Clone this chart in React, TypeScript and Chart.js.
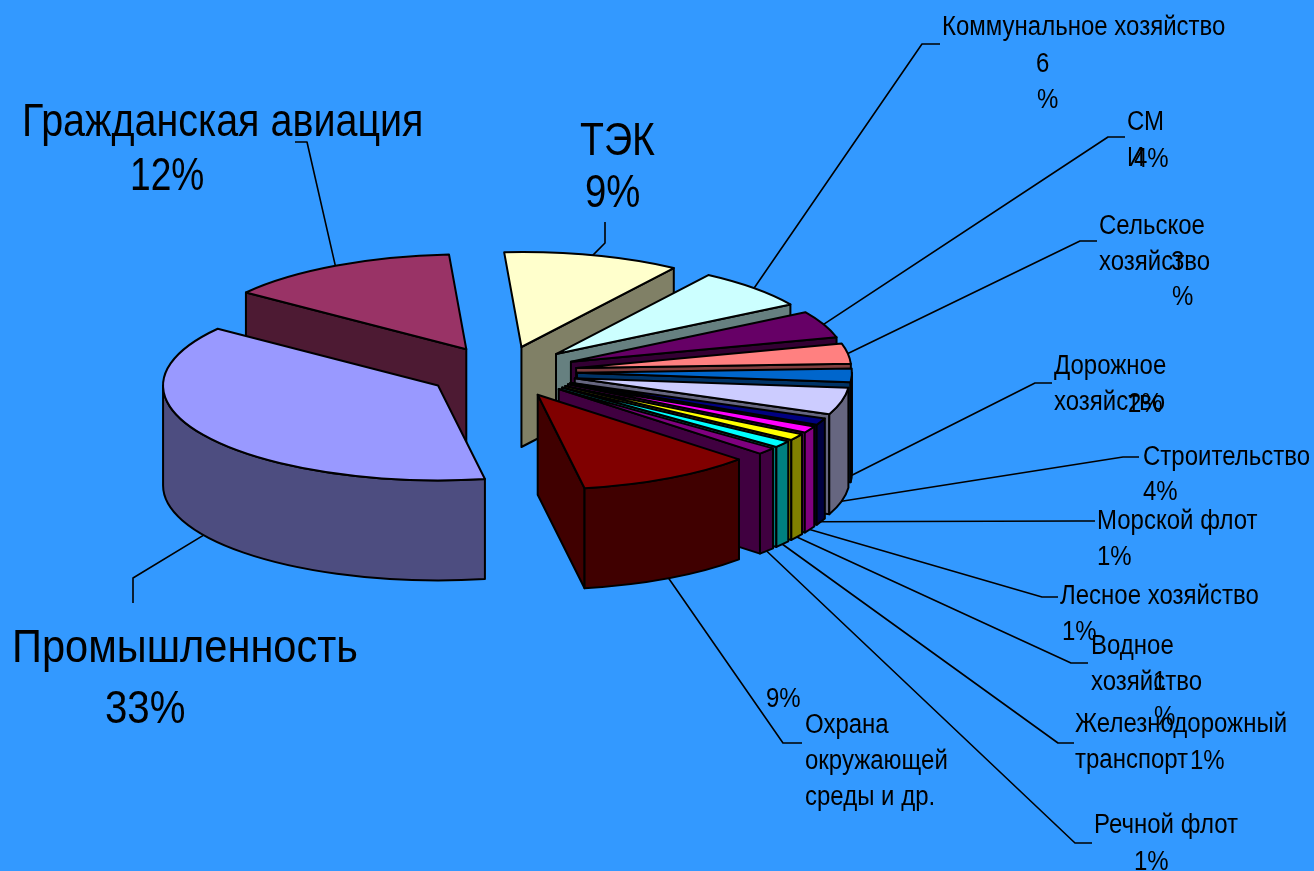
import React, { useEffect, useRef } from "react";
import { Chart, registerables } from "chart.js";

Chart.register(...registerables);

// Budget shares, clockwise from the top of the pie.
const categories = [
  "ТЭК", "Коммунальное хозяйство", "СМИ", "Сельское хозяйство", "Дорожное хозяйство",
  "Строительство", "Морской флот", "Лесное хозяйство", "Водное хозяйство",
  "Железнодорожный транспорт", "Речной флот", "Охрана окружающей среды и др.",
  "Промышленность", "Гражданская авиация",
];
const shares = [9, 6, 4, 3, 2, 4, 1, 1, 1, 1, 1, 9, 33, 12];
const sliceColors = [
  "#FFFFCC", "#CCFFFF", "#660066", "#FF8080", "#0066CC", "#CCCCFF", "#000080",
  "#FF00FF", "#FFFF00", "#00FFFF", "#800080", "#800000", "#9999FF", "#993366",
];

// Pie projection.
const TILT = 0.345;
const DEPTH = 100;
const EXPLODE = 75;
const RADIUS = 275;
const FIRST_SLICE_ANGLE = -3.6;
// Radial walls this close to edge-on are left out.
const EDGE_ON = 0.2;

const LARGE_FONT = '47px "Liberation Sans"';
const SMALL_FONT = '27px "Liberation Sans"';
const SMALL_STRETCH = 0.889;

// Elbow and end of each leader line, in category order.
const leaderPaths = [
  [[605, 243], [605, 222]],
  [[922, 44], [940, 44]],
  [[1108, 137], [1125, 137]],
  [[1080, 241], [1097, 241]],
  [[1035, 383], [1052, 383]],
  [[1123, 457], [1139, 457]],
  [[1078, 521], [1095, 521]],
  [[1042, 597], [1058, 597]],
  [[1071, 663], [1088, 663]],
  [[1058, 743], [1074, 743]],
  [[1075, 843], [1092, 843]],
  [[783, 743], [802, 743]],
  [[133, 578], [133, 603]],
  [[307, 142], [295, 142]],
];

// Text runs of the callouts: [text, x, baseline, horizontal stretch].
const largeRuns: [string, number, number, number][] = [
  ["Гражданская авиация", 22, 136, 0.84],
  ["12%", 130, 190, 0.79],
  ["ТЭК", 580, 155, 0.834],
  ["9%", 585, 207, 0.815],
  ["Промышленность", 12, 662, 0.885],
  ["33%", 105, 723, 0.855],
];
const smallRuns: [string, number, number][] = [
  ["Коммунальное хозяйство", 942, 35],
  ["6", 1036, 72],
  ["%", 1037, 108],
  ["СМ", 1127, 130],
  ["И", 1127, 166],
  ["4%", 1134, 167],
  ["Сельское", 1099, 234],
  ["хозяйство", 1099, 270],
  ["3", 1171, 270],
  ["%", 1172, 305],
  ["Дорожное", 1054, 374],
  ["хозяйство", 1054, 410],
  ["2%", 1128, 412],
  ["Строительство", 1143, 465],
  ["4%", 1143, 500],
  ["Морской флот", 1097, 529],
  ["1%", 1097, 565],
  ["Лесное хозяйство", 1060, 604],
  ["1%", 1062, 640],
  ["Водное", 1091, 654],
  ["хозяйство", 1091, 690],
  ["1", 1153, 690],
  ["%", 1154, 725],
  ["Железнодорожный", 1075, 732],
  ["транспорт", 1075, 768],
  ["1%", 1190, 769],
  ["Речной флот", 1094, 833],
  ["1%", 1134, 870],
  ["9%", 766, 707],
  ["Охрана", 805, 733],
  ["окружающей", 805, 769],
  ["среды и др.", 805, 805],
];

const halve = (hex: string) => {
  const n = parseInt(hex.slice(1), 16);
  const c = [(n >> 16) & 255, (n >> 8) & 255, n & 255].map((v) => Math.round(v / 2));
  return `rgb(${c[0]},${c[1]},${c[2]})`;
};

const LINE = 2;

// Draws the slices as extruded wedges from the geometry of the library's arc elements.
const extrudedPie = {
  id: "extrudedPie",
  beforeDatasetDraw(chart: any, args: any) {
    const ctx: CanvasRenderingContext2D = chart.ctx;
    const arcs = args.meta.data as any[];
    const items = arcs.map((arc, i) => {
      const { x, y, startAngle, endAngle, outerRadius } = arc.getProps(
        ["x", "y", "startAngle", "endAngle", "outerRadius"],
        true,
      );
      const mid = (startAngle + endAngle) / 2;
      return {
        arc, i, startAngle, endAngle, mid, r: outerRadius,
        cx: x + Math.cos(mid) * EXPLODE,
        cy: y + Math.sin(mid) * EXPLODE * TILT,
      };
    });

    const pole = (it: any, a: number, drop: number) => [
      it.cx + Math.cos(a) * it.r,
      it.cy + Math.sin(a) * it.r * TILT + drop,
    ];
    const paint = (fill: string) => {
      ctx.fillStyle = fill;
      ctx.fill();
      ctx.stroke();
    };

    ctx.save();
    ctx.lineWidth = LINE;
    ctx.strokeStyle = "#000";
    ctx.lineJoin = "round";

    // Leader lines sit behind the wedges.
    ctx.save();
    ctx.lineWidth = 1.6;
    items.forEach((it) => {
      const s = Math.sin(it.mid) >= 0;
      const [sx, sy] = pole(it, it.mid, s ? DEPTH : 0);
      ctx.beginPath();
      ctx.moveTo(sx, sy);
      leaderPaths[it.i].forEach(([px, py]) => ctx.lineTo(px, py));
      ctx.stroke();
    });
    ctx.restore();

    // Back to front.
    [...items]
      .sort((p, q) => Math.sin(p.mid) - Math.sin(q.mid))
      .forEach((it) => {
        const side = halve(sliceColors[it.i]);
        const radial = (a: number) => {
          const [ex, ey] = pole(it, a, 0);
          ctx.beginPath();
          ctx.moveTo(it.cx, it.cy);
          ctx.lineTo(ex, ey);
          ctx.lineTo(ex, ey + DEPTH);
          ctx.lineTo(it.cx, it.cy + DEPTH);
          ctx.closePath();
          paint(side);
        };
        if (Math.cos(it.startAngle) < -EDGE_ON) radial(it.startAngle);
        if (Math.cos(it.endAngle) > 0) radial(it.endAngle);

        // Rim: the part of the arc that faces the viewer.
        for (const shift of [0, 2 * Math.PI, -2 * Math.PI]) {
          const from = Math.max(it.startAngle + shift, 0);
          const to = Math.min(it.endAngle + shift, Math.PI);
          if (to > from) {
            const ry = it.r * TILT;
            ctx.beginPath();
            ctx.ellipse(it.cx, it.cy, it.r, ry, 0, from, to);
            ctx.ellipse(it.cx, it.cy + DEPTH, it.r, ry, 0, to, from, true);
            ctx.closePath();
            paint(side);
          }
        }

        // Top face: the arc element paints itself in the tilted plane.
        ctx.save();
        ctx.translate(it.cx, it.cy);
        ctx.scale(1, TILT);
        ctx.translate(-it.arc.x, -it.arc.y);
        it.arc.draw(ctx);
        ctx.restore();

        ctx.beginPath();
        ctx.moveTo(it.cx, it.cy);
        ctx.ellipse(it.cx, it.cy, it.r, it.r * TILT, 0, it.startAngle, it.endAngle);
        ctx.closePath();
        ctx.stroke();
      });

    // Callout text.
    ctx.fillStyle = "#000";
    ctx.textBaseline = "alphabetic";
    const write = (text: string, x: number, y: number, stretch: number) => {
      ctx.save();
      ctx.translate(x, y);
      ctx.scale(stretch, 1);
      ctx.fillText(text, 0, 0);
      ctx.restore();
    };
    ctx.font = LARGE_FONT;
    largeRuns.forEach(([text, x, y, stretch]) => write(text, x, y, stretch));
    ctx.font = SMALL_FONT;
    smallRuns.forEach(([text, x, y]) => write(text, x, y, SMALL_STRETCH));
    ctx.restore();
    return false;
  },
};

export default function App() {
  const ref = useRef<HTMLCanvasElement>(null);
  useEffect(() => {
    const chart = new Chart(ref.current!, {
      type: "pie",
      data: {
        labels: categories,
        datasets: [{ data: shares, backgroundColor: sliceColors, borderWidth: 0 }],
      },
      options: {
        animation: false,
        responsive: false,
        radius: RADIUS,
        rotation: FIRST_SLICE_ANGLE,
        layout: { padding: { right: 310, bottom: 127 } },
        plugins: { legend: { display: false }, tooltip: { enabled: false } },
      },
      plugins: [extrudedPie],
    } as any);
    return () => chart.destroy();
  }, []);
  return (
    <div style={{ position: "fixed", inset: 0, background: "#3399FF" }}>
      <canvas ref={ref} width={1314} height={871} style={{ display: "block" }} />
    </div>
  );
}
